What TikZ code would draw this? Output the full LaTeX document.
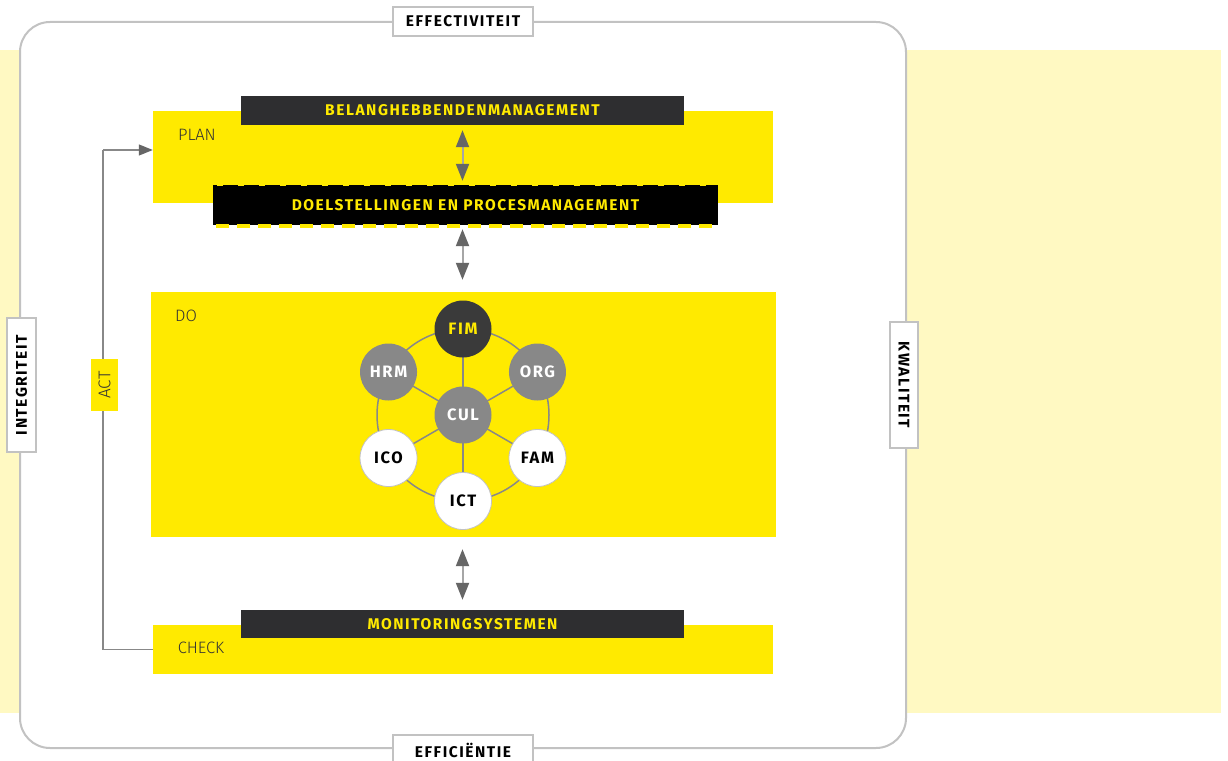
\documentclass[tikz,border=0pt]{standalone}
\usepackage{fontspec}
\setmainfont{Fira Sans}
\newfontfamily\widebold[LetterSpace=10]{Fira Sans}
\newfontfamily\lightfont{Fira Sans Light}
\usetikzlibrary{arrows.meta}
\definecolor{brightyellow}{HTML}{FFEA00}
\definecolor{paleyellow}{HTML}{FFF9C2}
\definecolor{darkbox}{HTML}{2E2E30}
\definecolor{framegray}{HTML}{C2C2C2}
\definecolor{headgray}{HTML}{666666}
\definecolor{shaftgray}{HTML}{A6A6A6}
\definecolor{midgray}{HTML}{888888}
\definecolor{fimgray}{HTML}{3A3A3A}
\definecolor{labeltext}{HTML}{333333}
\tikzset{
  phasebox/.style={fill=brightyellow, draw=none, inner sep=0pt},
  phaselabel/.style={text=labeltext, font=\lightfont\fontsize{16.5}{16.5}\selectfont, inner sep=0pt},
  topicbox/.style={fill=darkbox, draw=none, inner sep=0pt, text=brightyellow,
    font=\widebold\bfseries\fontsize{15.5}{15.5}\selectfont},
  framelabel/.style={fill=white, draw=framegray, line width=1.5pt, inner sep=0pt,
    font=\widebold\bfseries\fontsize{15.5}{15.5}\selectfont},
  dblarrow/.style={draw=shaftgray, line width=2pt,
    {Triangle[width=13pt,length=17pt,color=headgray]}-{Triangle[width=13pt,length=17pt,color=headgray]}},
  loopline/.style={draw=midgray, line width=1.3pt},
  domainnode/.style={circle, minimum size=57pt, inner sep=0pt,
    font=\widebold\bfseries\fontsize{16.5}{16.5}\selectfont},
  ringline/.style={draw=midgray, line width=1.5pt}
}
\begin{document}
\begin{tikzpicture}[x=1pt,y=-1pt]
\useasboundingbox (0,0) rectangle (1228,760);
% pale band behind the frame
\fill[paleyellow] (0,50) rectangle (1221,713);
% rounded outer frame
\draw[framegray, line width=2pt, fill=white, rounded corners=30pt] (20,22) rectangle (906,748);

% frame labels
\node[framelabel, minimum width=140pt, minimum height=29pt] (eff) at (463,21.5) {EFFECTIVITEIT};
\node[framelabel, minimum width=140pt, minimum height=30pt] (efc) at (463,750) {EFFICIËNTIE};
\node[framelabel, minimum width=134pt, minimum height=29pt, rotate=90] (int) at (21.5,385) {INTEGRITEIT};
\node[framelabel, minimum width=126pt, minimum height=28pt, rotate=-90] (kwa) at (904,385) {KWALITEIT};

% PLAN phase
\node[phasebox, minimum width=620pt, minimum height=92pt] (plan) at (463,157) {};
\node[phaselabel] (planlbl) at (197,135) {PLAN};
\node[topicbox, minimum width=443pt, minimum height=29pt] (bel) at (462.5,110.5) {BELANGHEBBENDENMANAGEMENT};

% dashed-edged objectives box
\node[fill=black, inner sep=0pt, minimum width=505pt, minimum height=40pt] (doel) at (465.5,205) {};
\draw[brightyellow, line width=3pt, dash pattern=on 6pt off 15pt, dash phase=-4pt]
  (doel.north west) -- (doel.north east);
\draw[brightyellow, line width=4pt, dash pattern=on 13pt off 8pt, dash phase=-3pt]
  ([yshift=-1pt]doel.south west) -- ([yshift=-1pt]doel.south east);
\node[text=brightyellow, font=\widebold\bfseries\fontsize{15.5}{15.5}\selectfont, inner sep=0pt] (doeltxt) at (doel) {DOELSTELLINGEN EN PROCESMANAGEMENT};

% DO phase
\node[phasebox, minimum width=625pt, minimum height=245pt] (do) at (463.5,414.5) {};
\node[phaselabel] (dolbl) at (186,316) {DO};

% CHECK phase
\node[phasebox, minimum width=620pt, minimum height=49pt] (check) at (463,649.5) {};
\node[phaselabel] (checklbl) at (201,648) {CHECK};
\node[topicbox, minimum width=443pt, minimum height=28pt] (mon) at (462.5,624) {MONITORINGSYSTEMEN};

% two-way arrows between the layers
\draw[dblarrow, shorten <=5pt, shorten >=4pt] (bel.south) -- (bel.south |- doel.north);
\draw[dblarrow, shorten <=4pt, shorten >=12pt] (bel.south |- doel.south) -- (bel.south |- do.north);
\draw[dblarrow, shorten <=12pt, shorten >=10pt] (bel.south |- do.south) -- (bel.south |- mon.north);

% ACT feedback loop
\coordinate (actbot) at (103,649.5);
\coordinate (acttop) at (103,150);
\draw[loopline] (check.west) -- (actbot) -- (acttop);
\draw[loopline, -{Triangle[width=11pt,length=14pt,color=headgray]}] (acttop) -- (acttop -| plan.west);
\node[fill=brightyellow, inner sep=0pt, minimum width=52pt, minimum height=27pt, rotate=90,
  text=labeltext, font=\lightfont\fontsize{17}{17}\selectfont] (act) at (104.5,385) {ACT};

% domain wheel
\coordinate (hub) at (463,415);
\draw[ringline] (hub) circle (86pt);
\foreach \a in {90,30,-30,-90,-150,150}
  \draw[ringline] (hub) -- ++(\a:86pt);
\node[domainnode, fill=midgray, text=white] (cul) at (hub) {CUL};
\node[domainnode, fill=fimgray, text=brightyellow] (fim) at ([shift={(90:86pt)}]hub) {FIM};
\node[domainnode, fill=midgray, text=white] (org) at ([shift={(30:86pt)}]hub) {ORG};
\node[domainnode, fill=white, draw=framegray, line width=0.8pt, text=black] (fam) at ([shift={(-30:86pt)}]hub) {FAM};
\node[domainnode, fill=white, draw=framegray, line width=0.8pt, text=black] (ict) at ([shift={(-90:86pt)}]hub) {ICT};
\node[domainnode, fill=white, draw=framegray, line width=0.8pt, text=black] (ico) at ([shift={(-150:86pt)}]hub) {ICO};
\node[domainnode, fill=midgray, text=white] (hrm) at ([shift={(150:86pt)}]hub) {HRM};
\end{tikzpicture}
\end{document}
